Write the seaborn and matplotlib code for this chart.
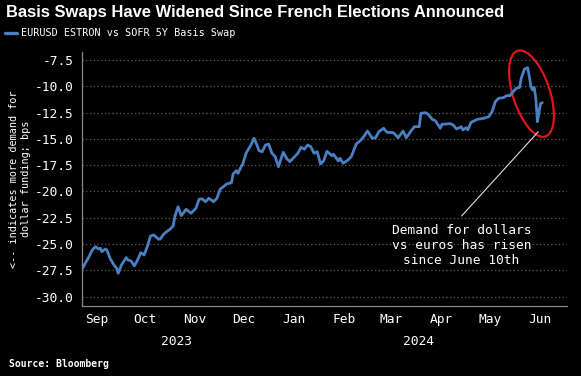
import matplotlib
matplotlib.use("Agg")
import matplotlib.pyplot as plt
import matplotlib.dates as mdates
import matplotlib.transforms as mtransforms
from matplotlib.patches import Ellipse
import seaborn as sns
import pandas as pd
import numpy as np

# ---- data ----
dates = [
    "2023-09-07", "2023-09-11", "2023-09-13", "2023-09-15", "2023-09-17", "2023-09-18",
    "2023-09-19", "2023-09-21", "2023-09-22", "2023-09-24", "2023-09-26", "2023-09-28",
    "2023-09-29", "2023-10-01", "2023-10-04", "2023-10-05", "2023-10-07", "2023-10-09",
    "2023-10-11", "2023-10-13", "2023-10-15", "2023-10-17", "2023-10-19", "2023-10-21",
    "2023-10-24", "2023-10-25", "2023-10-27", "2023-10-29", "2023-10-31", "2023-11-02",
    "2023-11-03", "2023-11-05", "2023-11-07", "2023-11-10", "2023-11-13", "2023-11-16",
    "2023-11-18", "2023-11-20", "2023-11-22", "2023-11-24", "2023-11-27", "2023-11-29",
    "2023-12-01", "2023-12-03", "2023-12-05", "2023-12-08", "2023-12-09", "2023-12-11",
    "2023-12-12", "2023-12-14", "2023-12-15", "2023-12-17", "2023-12-20", "2023-12-22",
    "2023-12-24", "2023-12-25", "2023-12-27", "2023-12-29", "2023-12-31", "2024-01-02",
    "2024-01-04", "2024-01-06", "2024-01-09", "2024-01-11", "2024-01-13", "2024-01-16",
    "2024-01-18", "2024-01-20", "2024-01-22", "2024-01-24", "2024-01-26", "2024-01-28",
    "2024-01-30", "2024-02-01", "2024-02-03", "2024-02-05", "2024-02-08", "2024-02-09",
    "2024-02-12", "2024-02-13", "2024-02-15", "2024-02-18", "2024-02-20", "2024-02-23",
    "2024-02-26", "2024-02-28", "2024-03-01", "2024-03-04", "2024-03-06", "2024-03-08",
    "2024-03-11", "2024-03-13", "2024-03-17", "2024-03-20", "2024-03-23", "2024-03-25",
    "2024-03-28", "2024-03-30", "2024-04-02", "2024-04-03", "2024-04-06", "2024-04-08",
    "2024-04-10", "2024-04-12", "2024-04-13", "2024-04-15", "2024-04-16", "2024-04-19",
    "2024-04-21", "2024-04-23", "2024-04-25", "2024-04-28", "2024-04-29", "2024-05-01",
    "2024-05-02", "2024-05-04", "2024-05-08", "2024-05-12", "2024-05-15", "2024-05-17",
    "2024-05-19", "2024-05-21", "2024-05-24", "2024-05-26", "2024-05-28", "2024-05-30",
    "2024-06-01", "2024-06-03", "2024-06-04", "2024-06-06", "2024-06-08", "2024-06-09",
    "2024-06-10", "2024-06-11", "2024-06-12", "2024-06-13", "2024-06-14", "2024-06-15",
    "2024-06-16", "2024-06-17",
]
basis_bps = [
    -27.30, -26.20, -25.56, -25.25, -25.47, -25.40,
    -25.72, -25.47, -25.56, -26.35, -26.89, -27.30,
    -27.78, -26.99, -26.29, -26.51, -26.61, -27.08,
    -26.51, -25.82, -26.04, -25.25, -24.23, -24.14,
    -24.54, -24.52, -24.07, -23.82, -23.59, -23.28,
    -22.40, -21.45, -22.30, -21.69, -22.07, -21.60,
    -20.74, -20.71, -20.97, -20.65, -20.97, -20.65,
    -19.79, -19.54, -19.29, -19.16, -18.34, -18.02,
    -18.27, -17.64, -17.39, -16.37, -15.58, -14.94,
    -15.68, -16.12, -16.22, -15.58, -15.49, -16.37,
    -16.69, -17.64, -16.27, -16.84, -17.17, -16.69,
    -16.37, -15.80, -15.99, -15.58, -15.74, -16.37,
    -16.22, -17.39, -17.07, -16.18, -16.60, -16.46,
    -17.10, -16.84, -17.32, -17.01, -16.69, -15.51,
    -15.10, -14.72, -14.25, -14.94, -14.89, -14.32,
    -13.99, -14.37, -14.41, -14.89, -14.25, -14.89,
    -14.22, -13.84, -13.84, -12.57, -12.51, -12.73,
    -13.14, -13.27, -13.52, -13.99, -13.61, -13.58,
    -13.54, -13.68, -14.06, -13.84, -14.15, -13.94,
    -14.15, -13.42, -13.14, -13.04, -12.89, -12.41,
    -11.46, -11.14, -11.08, -10.89, -10.89, -10.51,
    -10.19, -10.10, -9.24, -8.36, -8.23, -9.09,
    -10.04, -10.35, -10.10, -11.14, -13.37, -12.41,
    -11.62, -11.56,
]
series_label = "EURUSD ESTRON vs SOFR 5Y Basis Swap"
title_text = "Basis Swaps Have Widened Since French Elections Announced"
ylabel_text = "<-- indicates more demand for\ndollar funding; bps"
note_text = "Demand for dollars\nvs euros has risen\nsince June 10th"
source_text = "Source: Bloomberg"
month_labels = ["Sep", "Oct", "Nov", "Dec", "Jan", "Feb", "Mar", "Apr", "May", "Jun"]
year_labels = ["2023", "2024"]
y_ticks = [-30.0, -27.5, -25.0, -22.5, -20.0, -17.5, -15.0, -12.5, -10.0, -7.5]

df = pd.DataFrame({"date": pd.to_datetime(dates), "value": basis_bps})

# ---- style ----
sns.set_theme(style="dark")
mono = "DejaVu Sans Mono"
plt.rcParams["font.family"] = ["DejaVu Sans Mono", "DejaVu Sans"]
BG = "#000000"
LINE = "#4a7fc1"
GRID = "#5a5a5a"
AXC = "#8a8a8a"

fig = plt.figure(figsize=(5.81, 3.76), dpi=100, facecolor=BG)
ax = fig.add_axes([82 / 581, 1 - 305.7 / 376, (566.7 - 82) / 581, (305.7 - 51.7) / 376])
ax.set_facecolor(BG)

sns.lineplot(data=df, x="date", y="value", ax=ax, color=LINE, linewidth=2.0,
             label=series_label, legend=False)

x0 = pd.Timestamp("2023-09-06 16:00")
x1 = pd.Timestamp("2024-07-02 02:00")
ax.set_xlim(x0, x1)
ax.set_ylim(-30.86, -6.71)

# y axis
ax.set_yticks(y_ticks)
ax.set_yticklabels([f"{v:.1f}" for v in y_ticks], color="white", fontsize=9.3, family=mono)
ax.tick_params(axis="y", length=0, pad=6)
ax.yaxis.grid(True, color=GRID, linestyle=(0, (1, 2)), linewidth=0.9)
ax.xaxis.grid(False)

# x axis: month boundaries as tick marks, labels mid-month
month_starts = pd.date_range("2023-10-01", "2024-07-01", freq="MS")
ax.set_xticks(month_starts)
ax.set_xticklabels([""] * len(month_starts))
ax.tick_params(axis="x", length=2.5, width=0.8, color=AXC, direction="out")
mid_months = pd.date_range("2023-09-01", "2024-06-01", freq="MS") + pd.Timedelta(days=14.5)
ax.set_xticks(mid_months, minor=True)
ax.set_xticklabels(month_labels, minor=True, color="white", fontsize=9.3, family=mono)
ax.tick_params(axis="x", which="minor", length=0, pad=5)
# longer year-boundary tick
for t in ax.xaxis.get_major_ticks():
    if t.get_loc() == mdates.date2num(pd.Timestamp("2024-01-01")):
        t.tick1line.set_markersize(5)

for s in ["top", "right"]:
    ax.spines[s].set_visible(False)
ax.spines["left"].set_color(AXC)
ax.spines["bottom"].set_color(AXC)
ax.spines["left"].set_linewidth(0.9)
ax.spines["bottom"].set_linewidth(0.9)

# year labels
yr_tr = mtransforms.blended_transform_factory(ax.transData, fig.transFigure)
jan1 = pd.Timestamp("2024-01-01")
ax.text(x0 + (jan1 - x0) / 2, 1 - 341.5 / 376, year_labels[0], transform=yr_tr,
        ha="center", va="center", color="white", fontsize=9.3, family=mono)
ax.text(jan1 + (x1 - jan1) / 2, 1 - 341.5 / 376, year_labels[1], transform=yr_tr,
        ha="center", va="center", color="white", fontsize=9.3, family=mono)

ax.set_xlabel("")
ax.set_ylabel("")
fig.text(20 / 581, 0.5 * ((1 - 305.7 / 376) + (1 - 51.7 / 376)), ylabel_text,
         rotation=90, ha="center", va="center", color="white", fontsize=7.3,
         family=mono, linespacing=1.3, multialignment="center")

# ellipse around recent move
cx = pd.Timestamp("2024-06-10 08:00")
cy = -10.70
ell_tr = fig.dpi_scale_trans + mtransforms.ScaledTranslation(mdates.date2num(cx), cy, ax.transData)
ax.add_patch(Ellipse((0, 0), width=0.37, height=0.90, angle=18, transform=ell_tr,
                     fill=False, edgecolor="#e0141e", linewidth=1.6, clip_on=False))

# annotation line and text
ax.annotate("", xy=(pd.Timestamp("2024-06-14 12:00"), -14.32),
            xytext=(pd.Timestamp("2024-04-28 04:00"), -22.33),
            arrowprops=dict(arrowstyle="-", color="#dddddd", lw=0.8,
                            shrinkA=0, shrinkB=0))
ax.text(pd.Timestamp("2024-04-28 04:00"), -23.05, note_text, ha="center", va="top",
        color="white", fontsize=9.3, family=mono, linespacing=1.2,
        multialignment="center")

# title, legend, source
fig.text(6 / 581, 1 - 12.7 / 376, title_text, ha="left", va="center", color="white",
         fontsize=11.85, fontweight="bold", family="Liberation Sans")
h, l = ax.get_legend_handles_labels()
leg = fig.legend(h, l, loc="center left", bbox_to_anchor=(5 / 581, 1 - 33.3 / 376),
                 frameon=False, borderpad=0, borderaxespad=0, handlelength=1.2,
                 handletextpad=0.35, prop={"family": mono, "size": 7.3})
for t in leg.get_texts():
    t.set_color("white")
for lh in leg.legend_handles:
    lh.set_linewidth(2.4)
fig.text(9 / 581, 1 - 364 / 376, source_text, ha="left", va="center", color="white",
         fontsize=7, fontweight="bold", family=mono)

fig.savefig("out.png", dpi=100, facecolor=BG)
